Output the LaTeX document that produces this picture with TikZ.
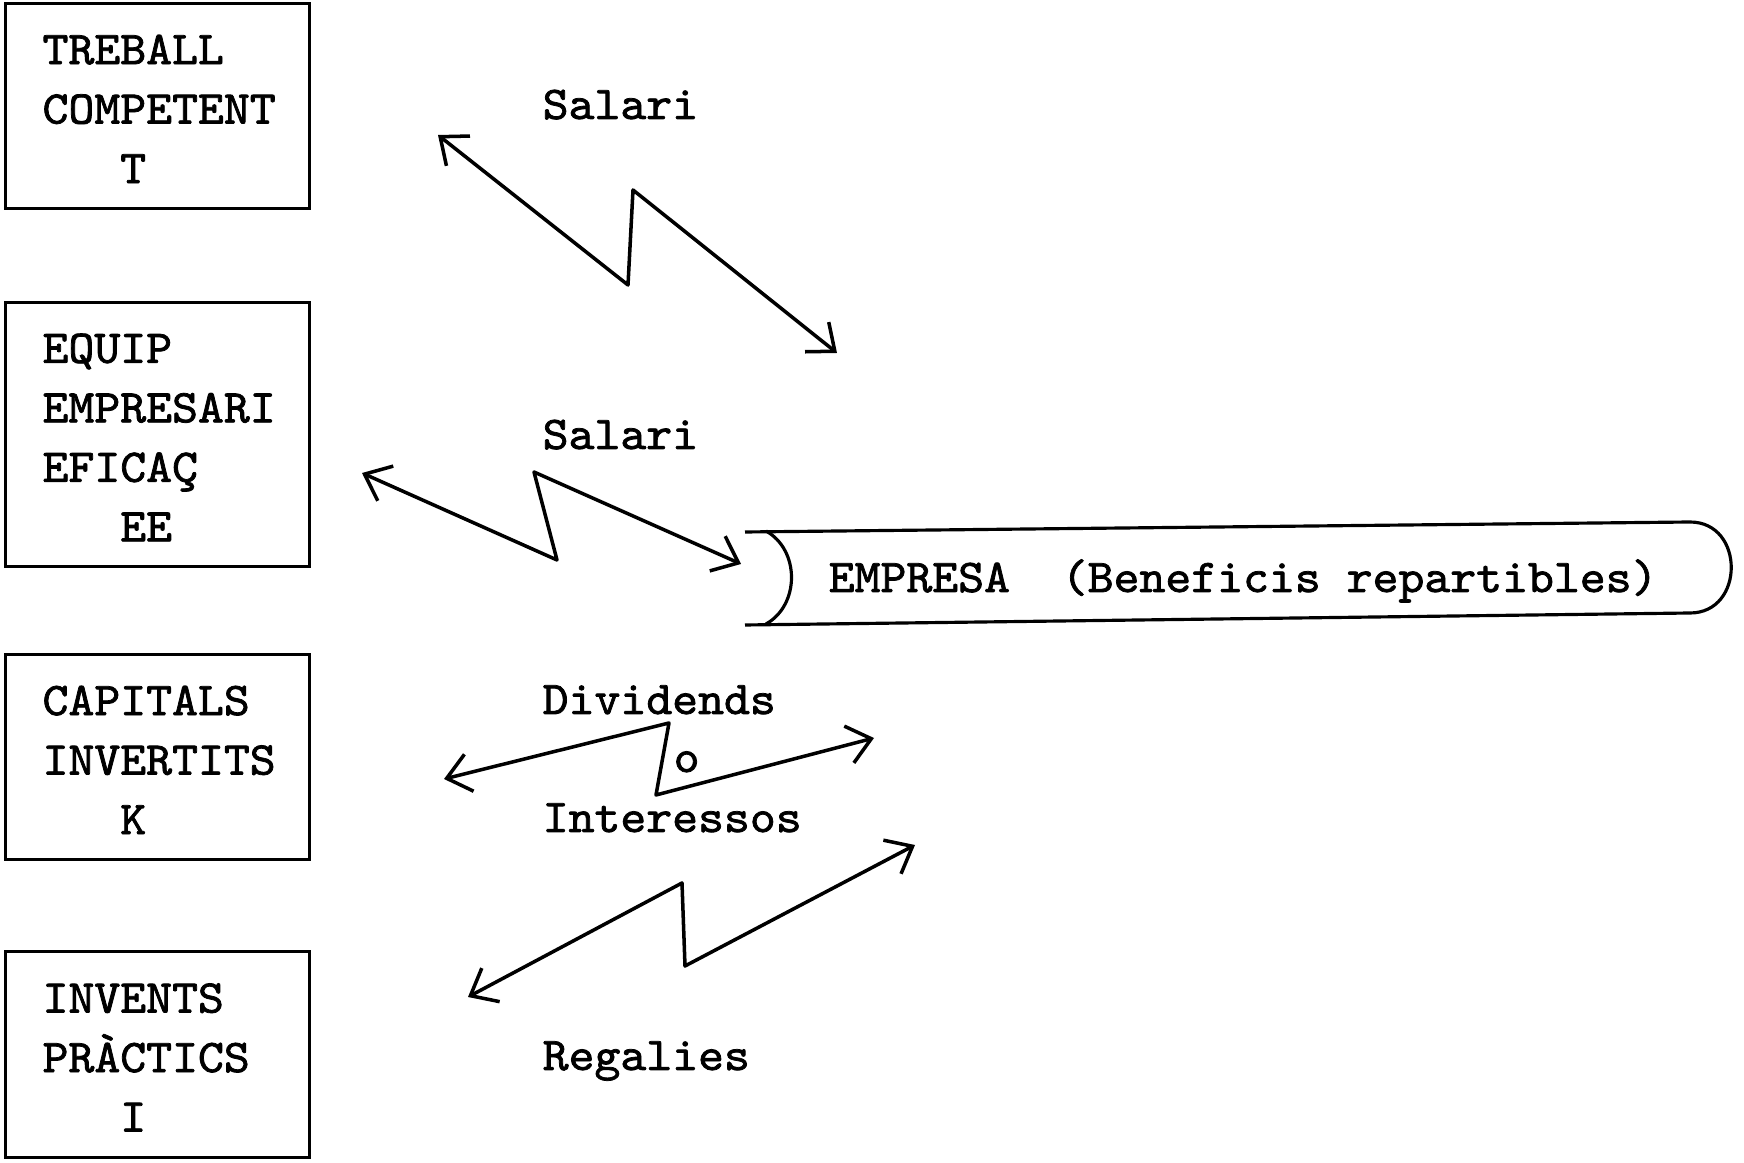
\documentclass[tikz,border=0pt]{standalone}
\usepackage{fontspec}
\newfontfamily\tw[FakeStretch=1.05,FakeBold=1.6]{lmmono10-regular.otf}
\usetikzlibrary{arrows.meta}
\begin{document}
\begin{tikzpicture}[x=0.1mm,y=-0.1mm,
  txt/.style={font=\tw\fontsize{13.37pt}{16.93pt}\selectfont, inner sep=0pt},
  box/.style={txt, draw, line width=0.9pt, minimum width=30.4mm, minimum height=20.5mm,
              text width=23.0mm, align=left, anchor=north west},
  lab/.style={txt, anchor=base west},
  conn/.style={line width=1pt, line join=round,
               {Straight Barb[length=2.3mm,width=3.8mm]}-{Straight Barb[length=2.3mm,width=3.8mm]}},
  shell/.style={line width=0.9pt}]
\useasboundingbox (0,0) rectangle (1744,1163);

% boxes
\node[box] (T) at (4,2) {\rule{0pt}{3.5mm}TREBALL\\COMPETENT\\\phantom{XXX}T};
\node[box, minimum height=26.4mm] (EE) at (4,301) {\rule{0pt}{3.5mm}EQUIP\\EMPRESARI\\EFICAÇ\\\phantom{XXX}EE};
\node[box] (K) at (4,653) {\rule{0pt}{3.5mm}CAPITALS\\INVERTITS\\\phantom{XXX}K};
\node[box, minimum height=20.6mm] (I) at (4,950) {\rule{0pt}{3.5mm}INVENTS\\PRÀCTICS\\\phantom{XXX}I};

% labels
\node[lab] (sal1) at (542,119) {Salari};
\node[lab] (sal2) at (542,449) {Salari};
\node[lab] (div) at (542,714) {Dividends};
\node[lab] (o) at (673,772) {o};
\node[lab] (int) at (542,832) {Interessos};
\node[lab] (reg) at (542,1070) {Regalies};

% empresa shape
\draw[shell] (745,532) -- (1690,522)
  .. controls (1745,522) and (1745,613) .. (1690,613) -- (745,625);
\draw[shell] (766,531) .. controls (800,550) and (800,605) .. (766,624);
\node[lab] (emp) at (828,592) {EMPRESA\ \ (Beneficis repartibles)};

% connectors
\coordinate (a1s) at (438,135); \coordinate (a1b) at (628,285);
\coordinate (a1t) at (633,190); \coordinate (a1e) at (837,353);
\coordinate (a2s) at (362,473); \coordinate (a2b) at (557,560);
\coordinate (a2t) at (534,472); \coordinate (a2e) at (741,564);
\coordinate (a3s) at (444,779); \coordinate (a3t) at (669,723);
\coordinate (a3b) at (656,795); \coordinate (a3e) at (874,738);
\coordinate (a4s) at (468,997); \coordinate (a4t) at (682,883);
\coordinate (a4b) at (685,966); \coordinate (a4e) at (915,845);

\draw[conn] (a1s) -- (a1b) -- (a1t) -- (a1e);
\draw[conn] (a2s) -- (a2b) -- (a2t) -- (a2e);
\draw[conn] (a3s) -- (a3t) -- (a3b) -- (a3e);
\draw[conn] (a4s) -- (a4t) -- (a4b) -- (a4e);
\end{tikzpicture}
\end{document}
